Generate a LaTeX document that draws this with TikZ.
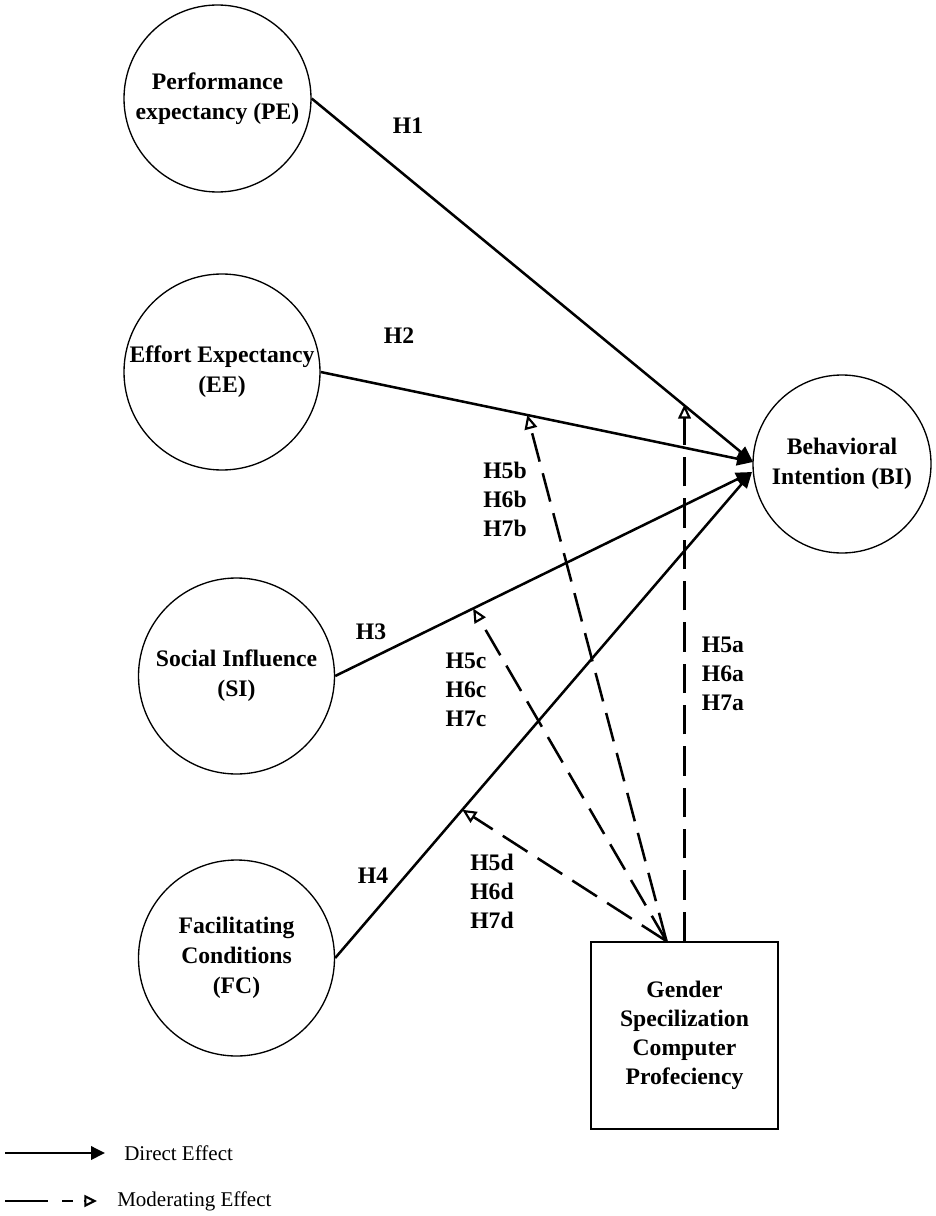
\documentclass[tikz,border=0pt]{standalone}
\usepackage{fontspec}
\setmainfont{Liberation Serif}
\usetikzlibrary{arrows.meta}
\begin{document}
\begin{tikzpicture}[x=0.75pt,y=-0.75pt,
  construct/.style={circle,draw,line width=1pt,inner sep=0pt,align=center,font=\bfseries\fontsize{17.75}{22.5}\selectfont},
  modbox/.style={rectangle,draw,line width=1.3pt,inner sep=0pt,minimum width=140.25pt,minimum height=140.25pt,align=center,font=\bfseries\fontsize{17.75}{21.75}\selectfont},
  direct/.style={line width=1.9pt,-{Triangle[length=12pt,width=10pt]}},
  moder/.style={line width=1.9pt,dash pattern=on 22pt off 9pt,-{Triangle[open,length=10.5pt,width=9.5pt,line width=1.6pt]}},
  hlabel/.style={font=\bfseries\fontsize{17.75}{21.75}\selectfont,align=center,inner sep=0pt},
  legtext/.style={font=\fontsize{15.75}{18}\selectfont,anchor=west,inner sep=0pt},
]
\useasboundingbox (0,0) rectangle (935,1216);

\node[construct,minimum size=140.25pt] (PE) at (217.5,98.5) {Performance\\expectancy (PE)};
\node[construct,minimum size=147pt] (EE) at (222,372) {Effort Expectancy\\(EE)};
\node[construct,minimum size=147pt] (SI) at (236.5,676) {Social Influence\\(SI)};
\node[construct,minimum size=147pt] (FC) at (236.5,958) {Facilitating\\Conditions\\(FC)};
\node[construct,minimum size=133.5pt] (BI) at (842,464) {Behavioral\\Intention (BI)};
\node[modbox] (box) at (684.5,1035.5) {Gender\\Specilization\\Computer\\Profeciency};

\coordinate (biA) at (753,462);
\coordinate (biB) at (752,472);
\coordinate (src) at ([xshift=-13.5pt]box.north);

\draw[direct] (PE.east) -- coordinate[pos=0.842] (mA) (biA);
\draw[direct] (EE.east) -- coordinate[pos=0.478] (mB) (biA);
\draw[direct] (SI.east) -- coordinate[pos=0.331] (mC) (biB);
\draw[direct] (FC.east) -- coordinate[pos=0.305] (mD) (biB);

\draw[moder] (box.north) -- (box.north |- mA);
\draw[moder] (src) -- (mB);
\draw[moder] (src) -- (mC);
\draw[moder] (src) -- (mD);

\node[hlabel] (h1) at (408,126) {H1};
\node[hlabel] (h2) at (399,336) {H2};
\node[hlabel] (h3) at (371,632) {H3};
\node[hlabel] (h4) at (373,876) {H4};
\node[hlabel] (hb) at (505,499) {H5b\\H6b\\H7b};
\node[hlabel] (hc) at (466,690) {H5c\\H6c\\H7c};
\node[hlabel] (hd) at (492,891) {H5d\\H6d\\H7d};
\node[hlabel] (ha) at (723,674) {H5a\\H6a\\H7a};

\coordinate (l1a) at (5,1153);
\coordinate (l1b) at (105,1153);
\draw[line width=1.9pt,-{Triangle[length=10.5pt,width=10pt]}] (l1a) -- (l1b);
\node[legtext] (lt1) at (124,1153) {Direct Effect};
\coordinate (l2a) at (5,1201);
\coordinate (l2b) at (97,1201);
\draw[line width=1.9pt,dash pattern=on 32.25pt off 10.5pt on 8.25pt off 8pt,-{Triangle[open,length=9.5pt,width=9pt,line width=1.6pt]}] (l2a) -- (l2b);
\node[legtext] (lt2) at (117,1201) {Moderating Effect};
\end{tikzpicture}
\end{document}
